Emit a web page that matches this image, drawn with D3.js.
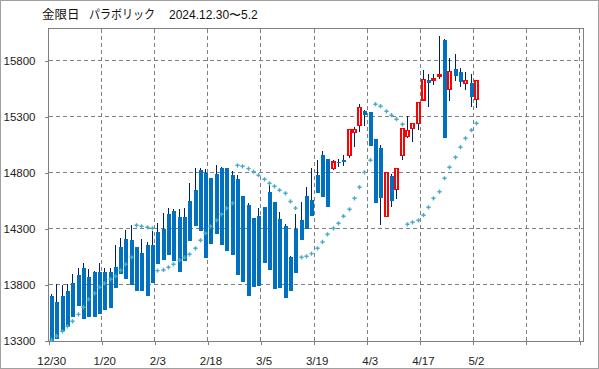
<!DOCTYPE html>
<html>
<head>
<meta charset="utf-8">
<script src="https://cdn.jsdelivr.net/npm/d3@7/dist/d3.min.js"></script>
<style>
  body { margin: 0; background: #fff; }
  svg { display: block; }
</style>
</head>
<body>
<div id="chart"></div>
<script>
// x軸ラベル (10本ごと)
const tickLabels = ["12/30", "1/20", "2/3", "2/18", "3/5", "3/19", "4/3", "4/17", "5/2"];
const yTicks = [13300, 13800, 14300, 14800, 15300, 15800];

const open = [
  13702, 13648, 13702, 13747, 13818, 13889, 13952, 13871, 13916, 13916,
  13916, 13916, 13961, 14139, 14211, 14202, 14139, 14086, 14157, 14157,
  14273, 14300, 14434, 14461, 14407, 14407, 14550, 14648, 14827, 14800,
  14756, 14791, 14845, 14845, 14782, 14747, 14595, 14514, 14398, 14416,
  14497, 14631, 14541, 14389, 14327, 14050, 14300, 14380, 14595, 14559,
  14780, 14960, 14925, 14842, 14898, 14916, 14955, 15164, 15223, 15351,
  15345, 15104, 15024, 14410, 14773, 14655, 14955, 15124, 15196, 15244,
  15452, 15628, 15625, 15660, 15988, 15544, 15729, 15702, 15601, 15601,
  15458
];
const high = [
  13720, 13809, 13800, 13809, 13898, 13949, 13994, 13943, 13925, 13994,
  13949, 13949, 14155, 14220, 14291, 14336, 14139, 14211, 14184, 14282,
  14351, 14446, 14488, 14479, 14479, 14488, 14708, 14845, 14842, 14836,
  14756, 14872, 14857, 14845, 14818, 14782, 14595, 14532, 14398, 14485,
  14497, 14708, 14541, 14452, 14345, 14060, 14434, 14540, 14675, 14842,
  14916, 14996, 14925, 14916, 14922, 14961, 15190, 15208, 15416, 15363,
  15345, 15104, 15048, 14806, 14791, 14842, 15199, 15309, 15250, 15431,
  15720, 15684, 15684, 16024, 15995, 15824, 15863, 15735, 15700, 15684,
  15628
];
const low = [
  13296, 13315, 13389, 13428, 13517, 13615, 13499, 13517, 13517, 13544,
  13580, 13597, 13776, 13896, 13856, 13800, 13749, 13749, 13702, 13818,
  13990, 14021, 14071, 14017, 13919, 14017, 14196, 14327, 14285, 14044,
  14169, 14258, 14160, 14106, 14071, 13892, 13830, 13705, 13785, 13794,
  13999, 13937, 13767, 13776, 13687, 13749, 13910, 14205, 14297, 14416,
  14624, 14585, 14499, 14827, 14851, 14866, 14937, 15035, 15169, 15223,
  15044, 14535, 14336, 14410, 14499, 14568, 14914, 15110, 15080, 15184,
  15452, 15393, 15586, 15640, 15116, 15446, 15624, 15566, 15541, 15393,
  15384
];
const close = [
  13300, 13315, 13389, 13428, 13517, 13615, 13499, 13517, 13517, 13544,
  13580, 13597, 13776, 13896, 13856, 13800, 13749, 13749, 13702, 13818,
  13990, 14021, 14071, 14017, 13919, 14017, 14196, 14327, 14285, 14044,
  14169, 14258, 14160, 14106, 14071, 13892, 13830, 13705, 13785, 13794,
  13999, 13937, 13767, 13776, 13687, 13749, 13910, 14205, 14297, 14416,
  14624, 14585, 14499, 14898, 14887, 14901, 15190, 15190, 15387, 15321,
  15044, 14535, 14580, 14806, 14553, 14842, 15199, 15181, 15244, 15431,
  15637, 15604, 15640, 15675, 15116, 15708, 15669, 15610, 15628, 15482,
  15628
];
// パラボリックSAR
const sar = [
  13309, 13345, 13387, 13431, 13476, 13538, 13601, 13672, 13726, 13780,
  13815, 13851, 13878, 13931, 13985, 14047, 14333, 14324, 14315, 14306,
  13928, 13934, 13958, 13985, 14021, 14046, 14074, 14128, 14199, 14262,
  14324, 14378, 14431, 14485, 14530, 14869, 14860, 14839, 14812, 14780,
  14744, 14708, 14681, 14646, 14619, 14546, 14486, 14047, 14056, 14080,
  14128, 14184, 14253, 14306, 14351, 14414, 14476, 14574, 14673, 14806,
  14914, 15414, 15396, 15351, 15316, 15280, 15235, 14342, 14360, 14378,
  14423, 14494, 14574, 14633, 14753, 14851, 14940, 15030, 15110, 15182,
  15244
];

const W = 599, H = 369;
const plot = { left: 48.5, right: 583.5, top: 28.5, bottom: 341 };

const svg = d3.select("#chart").append("svg")
  .attr("width", W)
  .attr("height", H);

svg.append("rect")
  .attr("x", 0.5).attr("y", 0.5)
  .attr("width", W - 1).attr("height", H - 1)
  .attr("fill", "#fff")
  .attr("stroke", "#a0a0a0");

const x = d3.scaleLinear()
  .domain([0, 100.75])
  .range([plot.left, plot.right]);
const step = x(1) - x(0);

const y = d3.scaleLinear()
  .domain([13300, 16090])
  .range([plot.bottom, plot.top]);

// グリッド
const grid = svg.append("g")
  .attr("stroke", "#808080")
  .attr("stroke-dasharray", "4,3")
  .attr("shape-rendering", "crispEdges");

grid.selectAll(".hg")
  .data(yTicks.slice(1))
  .enter()
  .append("line")
  .attr("x1", plot.left).attr("x2", plot.right)
  .attr("y1", (d) => y(d)).attr("y2", (d) => y(d));

const xTickIdx = d3.range(10, 101, 10);
grid.selectAll(".vg")
  .data(xTickIdx)
  .enter()
  .append("line")
  .attr("x1", (d) => x(d)).attr("x2", (d) => x(d))
  .attr("y1", plot.top).attr("y2", plot.bottom);

svg.append("rect")
  .attr("x", plot.left).attr("y", plot.top)
  .attr("width", plot.right - plot.left)
  .attr("height", plot.bottom - plot.top)
  .attr("fill", "none")
  .attr("stroke", "#808080")
  .attr("shape-rendering", "crispEdges");

// 軸
const yAxis = svg.append("g")
  .attr("transform", `translate(${plot.left},0)`)
  .call(d3.axisLeft(y).tickValues(yTicks).tickSize(4).tickPadding(9).tickFormat(d3.format("d")));

const xAxis = svg.append("g")
  .attr("transform", `translate(0,${plot.bottom})`)
  .call(d3.axisBottom(x).tickValues(d3.range(0, 101, 10)).tickSize(4).tickPadding(12)
    .tickFormat((d) => tickLabels[d / 10] || ""));

xAxis.selectAll("text").attr("dx", step / 2);

[yAxis, xAxis].forEach((a) => {
  a.select(".domain").remove();
  a.selectAll("line").attr("stroke", "#808080").attr("shape-rendering", "crispEdges");
  a.selectAll("text")
    .attr("fill", "#222")
    .style("font-family", "'Liberation Sans', Arial, sans-serif")
    .style("font-size", "11.5px");
});

// ローソク足
const data = open.map((o, i) => ({
  i, o, h: high[i], l: low[i], c: close[i], s: sar[i]
}));
const cx = (d) => Math.round(x(d.i + 0.5));

const g = svg.append("g").attr("shape-rendering", "crispEdges");

g.selectAll(".wick")
  .data(data)
  .enter()
  .append("line")
  .attr("x1", (d) => cx(d) + 0.5).attr("x2", (d) => cx(d) + 0.5)
  .attr("y1", (d) => y(d.h)).attr("y2", (d) => y(d.l))
  .attr("stroke", "#002060");

g.selectAll(".down")
  .data(data.filter((d) => d.c < d.o))
  .enter()
  .append("rect")
  .attr("x", (d) => cx(d) - 1.5)
  .attr("width", 4)
  .attr("y", (d) => y(d.o))
  .attr("height", (d) => Math.max(1, y(d.c) - y(d.o)))
  .attr("fill", "#0070c0");

g.selectAll(".up")
  .data(data.filter((d) => d.c >= d.o))
  .enter()
  .append("rect")
  .attr("x", (d) => cx(d) - 1)
  .attr("width", 3)
  .attr("y", (d) => y(d.c))
  .attr("height", (d) => Math.max(1, y(d.o) - y(d.c)))
  .attr("fill", "#fff")
  .attr("stroke", "#ff0000")
  .attr("stroke-width", 1.3);

svg.append("g").selectAll("path")
  .data(data)
  .enter()
  .append("path")
  .attr("transform", (d) => `translate(${cx(d) + 0.5},${y(d.s)})`)
  .attr("d", d3.symbol(d3.symbolCross, 10))
  .attr("fill", "#4bacc6");

// タイトル
const title = svg.append("text")
  .attr("y", 19)
  .attr("fill", "#111")
  .style("font-size", "12.5px");
title.append("tspan").attr("x", 42).style("font-family", "'Noto Sans CJK JP', sans-serif").text("金限日");
title.append("tspan").attr("x", 89)
  .attr("textLength", 66).attr("lengthAdjust", "spacingAndGlyphs")
  .style("font-family", "'Noto Sans CJK JP', sans-serif").text("パラボリック");
title.append("tspan").attr("x", 169).style("font-family", "'Liberation Sans', Arial, sans-serif").style("font-size", "12px").text("2024.12.30〜5.2");
</script>
</body>
</html>
